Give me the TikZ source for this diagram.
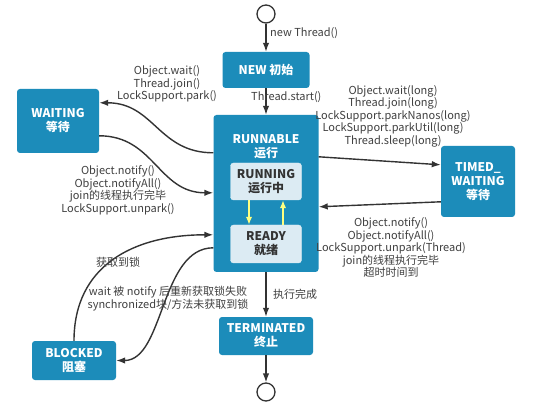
\documentclass[tikz,border=0pt]{standalone}
\usepackage{fontspec}
\setmainfont{Noto Sans CJK SC}
\usetikzlibrary{arrows.meta}
\definecolor{stateblue}{HTML}{1C8CBA}
\definecolor{innerblue}{HTML}{DCEBF3}
\definecolor{labelgray}{HTML}{404040}
\definecolor{linegray}{HTML}{333333}
\definecolor{yellowline}{HTML}{FFFF80}
\begin{document}
\begin{tikzpicture}[x=1pt, y=-1pt,
  state/.style={fill=stateblue, rounded corners=3, text=white, align=center, inner sep=0,
    font=\fontsize{12}{14}\selectfont\bfseries},
  substate/.style={fill=innerblue, draw=white!85!stateblue, rounded corners=3, text=linegray,
    align=center, inner sep=0, minimum width=71, font=\fontsize{12}{14}\selectfont\bfseries},
  endpoint/.style={circle, draw=linegray, line width=1.3, fill=white, minimum size=18, inner sep=0},
  lbl/.style={text=labelgray, align=center, inner sep=0, font=\fontsize{11}{12.5}\selectfont},
  flow/.style={draw=linegray, line width=1.4, -{Latex[length=9pt,width=6.5pt]}},
  yflow/.style={draw=yellowline, line width=1.8, -{Latex[length=8pt,width=6.5pt]}}]
 \fill[white] (0,0) rectangle (549,414);
 \useasboundingbox (0,0) rectangle (549,414);
 \node[endpoint] (start) at (266,14) {};
 \node[state, minimum width=87, minimum height=36] (new) at (266,70) {NEW 初始};
 \node[state, minimum width=105, minimum height=157] (runnable) at (266,193.5) {};
 \node[state] (runnabletitle) at (266,147) {RUNNABLE\\运行};
 \node[substate, minimum height=37] (running) at (266,181.5) {RUNNING\\运行中};
 \node[substate, minimum height=38] (ready) at (266,244) {READY\\就绪};
 \node[state, minimum width=82, minimum height=64] (waiting) at (58,121) {WAITING\\等待};
 \node[state, minimum width=74, minimum height=71] (timed) at (478,181.5) {TIMED\_\\WAITING\\等待};
 \node[state, minimum width=84, minimum height=39] (blocked) at (74,360.5) {BLOCKED\\阻塞};
 \node[state, minimum width=94, minimum height=38] (terminated) at (266,336) {TERMINATED\\终止};
 \node[endpoint] (end) at (266,392) {};
 \draw[flow] (start) -- (new);
 \draw[flow] (new) -- (runnable);
 \draw[flow] (runnable) -- (terminated);
 \draw[flow] (terminated) -- (end);
 \draw[yflow] ([xshift=-17]running.south) -- ([xshift=-17]ready.north);
 \draw[yflow] ([xshift=17]ready.north) -- ([xshift=17]running.south);
 \draw[flow] ([yshift=-38]runnable.north west) .. controls +(-55,0) and +(55,0) .. ([yshift=-14]waiting.north east);
 \draw[flow] ([yshift=-47]waiting.north east) .. controls +(55,0) and +(-55,0) .. ([yshift=-78]runnable.north west);
 \draw[flow] ([yshift=-42]runnable.north east) -- ([yshift=-19]timed.north west);
 \draw[flow] ([yshift=-56]timed.north west) -- ([yshift=-92]runnable.north east);
 \draw[flow] (blocked.north) .. controls +(0,-75) and +(-80,0) .. ([yshift=-120]runnable.north west);
 \draw[flow] ([yshift=-133]runnable.north west) .. controls +(-53,0) and +(48,0) .. (blocked.east);
 \node[lbl, anchor=west] (newlbl) at (270,33) {new Thread()};
 \node[lbl, anchor=west] (startlbl) at (251,97) {Thread.start()};
 \node[lbl] (waitlbl) at (167,84) {Object.wait()\\Thread.join()\\LockSupport.park()};
 \node[lbl] (notifylbl) at (118,190.5) {Object.notify()\\Object.notifyAll()\\join的线程执行完毕\\LockSupport.unpark()};
 \node[lbl] (timedlbl) at (393,116) {Object.wait(long)\\Thread.join(long)\\LockSupport.parkNanos(long)\\LockSupport.parkUtil(long)\\Thread.sleep(long)};
 \node[lbl] (timednotifylbl) at (391,247.5) {Object.notify()\\Object.notifyAll()\\LockSupport.unpark(Thread)\\join的线程执行完毕\\超时时间到};
 \node[lbl] (locklbl) at (118,262) {获取到锁};
 \node[lbl] (blocklbl) at (168,298.5) {wait 被 notify 后重新获取锁失败\\synchronized块/方法未获取到锁};
 \node[lbl, anchor=west] (donelbl) at (273,294) {执行完成};
\end{tikzpicture}
\end{document}
